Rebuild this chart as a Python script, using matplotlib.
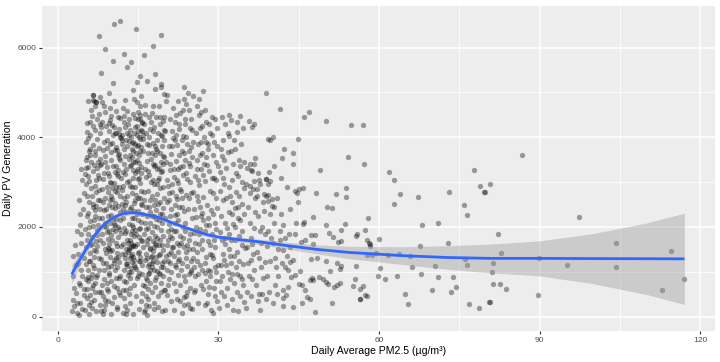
import matplotlib
matplotlib.use("Agg")
import matplotlib.pyplot as plt
import numpy as np

plt.rcParams['font.family'] = ['Liberation Sans', 'DejaVu Sans']

# (pm2.5, pv) pairs read /, by pollution band
pts_very_clean = [
    (2.7,120),(2.9,380),(3.1,650),(2.8,900),(3.3,1150),(3.0,240),(3.6,80),(3.4,520),(3.8,1400),(4.1,300),
    (3.9,760),(4.3,1050),(4.6,180),(4.4,1650),(4.8,620),(4.2,2050),(4.9,1300),(3.5,1900),(4.7,2400),(4.0,40),
    (4.5,900),(3.2,1600),(4.9,2750),(4.6,3050),(4.1,2300),(3.7,1200),(4.8,480),(4.3,1850),(3.9,2600),(2.9,1350),
    (4.4,3300),(5.5,4111),(5.6,3984),(6.0,4333),(5.3,3497),(5.3,3319),(5.6,3148),(3.6,300),(4.2,700),
]
pts_clean = [
    (5.1,150),(5.4,420),(5.7,880),(6.0,1240),(6.3,1610),(6.6,2020),(6.9,2380),(7.2,2790),(7.5,3150),(7.8,3520),
    (5.2,3890),(5.5,4330),(5.9,60),(6.2,330),(6.5,710),(6.8,1080),(7.1,1460),(7.4,1830),(7.7,2210),(7.9,2600),
    (5.3,2950),(5.6,3330),(5.8,3700),(6.1,4050),(6.4,4480),(6.7,4820),(7.0,540),(7.3,920),(7.6,1300),(7.9,1700),
    (5.0,1950),(5.4,2240),(5.8,2560),(6.2,2880),(6.6,3240),(7.0,3610),(7.4,3960),(7.8,4290),(5.6,1040),(6.0,1420),
    (6.4,1780),(6.8,2150),(7.2,2460),(7.6,2830),(5.1,3180),(5.5,620),(5.9,250),(6.3,960),(6.7,1330),(7.1,1680),
    (7.5,2050),(7.9,2400),(5.3,1550),(5.7,1850),(6.1,2140),(6.5,2520),(6.9,2920),(7.3,3320),(7.7,3760),(6.2,4600),
    (5.2,1180),(5.6,790),(6.0,480),(6.4,190),(6.8,380),(7.2,120),(7.6,560),(5.4,2680),(5.8,3030),(6.2,3450),
    (6.6,3820),(7.0,4160),(7.4,4410),(7.8,4900),(6.9,4690),(5.7,2320),(6.1,1600),(6.5,1150),(6.9,760),(7.3,1930),
    (7.7,1050),(5.5,1700),(6.3,2700),(7.1,3050),(7.9,3390),(6.0,3600),(6.8,3380),(7.5,2600),(5.9,2000),(6.7,1480),
    (7.2,880),(7.8,250),(6.4,650),(5.3,850),(7.0,2250),(6.6,2450),(7.4,1580),(5.8,1250),(6.2,870),(7.6,3100),
    (7.9,4100),(6.5,4250),(5.6,4800),(6.6,4950),(7.1,4780),(7.7,4520),(6.1,3750),(6.9,3700),(7.5,3450),(5.4,3560),
    (6.6,4942),(6.6,4831),(7.1,4793),(7.7,6260),(8.0,5430),(8.9,5964),(9.6,4978),
    (8.1,120),(8.4,460),(8.7,830),(9.0,1190),(9.3,1540),(9.6,1900),(9.9,2270),(10.2,2630),(10.5,2990),(10.8,3360),
    (11.1,3720),(11.4,4080),(11.7,4430),(8.2,4780),(8.5,50),(8.8,380),(9.1,740),(9.4,1100),(9.7,1460),(10.0,1820),
    (10.3,2180),(10.6,2540),(10.9,2900),(11.2,3260),(11.5,3620),(11.8,3980),(8.3,4340),(8.6,4690),(8.9,260),(9.2,620),
    (9.5,980),(9.8,1340),(10.1,1700),(10.4,2060),(10.7,2420),(11.0,2780),(11.3,3140),(11.6,3500),(11.9,3860),(8.1,4220),
    (8.4,1650),(8.7,2030),(9.0,2410),(9.3,2770),(9.6,3140),(9.9,3500),(10.2,3870),(10.5,4230),(10.8,4580),(11.1,170),
    (11.4,540),(11.7,910),(8.0,1280),(8.3,2840),(8.6,3210),(8.9,3580),(9.2,3940),(9.5,4310),(9.8,4660),(10.1,310),
    (10.4,680),(10.7,1050),(11.0,1410),(11.3,1780),(11.6,2150),(11.9,2510),(8.2,2200),(8.5,2560),(8.8,1510),(9.1,1880),
    (9.4,2240),(9.7,2610),(10.0,2980),(10.3,3350),(10.6,3720),(10.9,4090),(11.2,4450),(11.5,1210),(11.8,1580),(8.7,3890),
    (9.0,4250),(9.3,580),(9.6,930),(9.9,1120),(10.2,1490),(10.5,1260),(10.8,870),(11.1,640),(11.4,1950),(11.7,2330),
    (8.4,3060),(8.8,3440),(9.2,3770),(9.6,4130),(10.0,4470),(10.4,4820),(10.8,1640),(11.2,2010),(11.6,2690),(8.6,1040),
    (9.0,1410),(9.4,1730),(9.8,2090),(10.2,2450),(10.6,2810),(11.0,3180),(11.4,3540),(11.8,3100),(8.3,700),(8.9,2100),
    (9.5,2480),(10.1,2860),(10.7,3230),(11.3,3600),(11.9,3930),(9.7,4380),(10.3,4050),(10.9,3780),(11.5,4180),(8.5,3710),
    (8.1,560),(8.7,140),(9.3,350),(9.9,70),(10.5,430),(11.1,220),(11.7,480),(9.1,3330),(9.7,3010),(10.3,1960),
    (10.9,2180),(11.5,860),(8.2,1850),(8.8,2640),(9.4,3200),(10.0,3680),(10.6,4100),(11.2,1330),(11.8,1860),(9.6,1620),
    (10.4,1200),(11.0,1580),(8.6,2380),(9.2,2900),(9.8,3840),(10.6,1900),(11.3,2470),(8.9,4560),(10.1,4280),(11.6,4000),
    (8.4,1200),(9.5,1500),(10.8,1300),(11.1,1100),(9.9,2700),(10.7,2050),(11.4,2900),(8.0,3400),(9.0,2000),(10.0,800),
    (10.5,6533),(11.6,6586),(12.3,5853),(10.3,5698),(10.3,5215),
]
pts_moderate = [
    (12.1,90),(12.4,420),(12.7,780),(13.0,1130),(13.3,1480),(13.6,1840),(13.9,2190),(14.2,2540),(14.5,2900),(14.8,3250),
    (15.1,3600),(15.4,3960),(15.7,4310),(12.2,4660),(12.5,230),(12.8,590),(13.1,940),(13.4,1300),(13.7,1650),(14.0,2010),
    (14.3,2360),(14.6,2720),(14.9,3070),(15.2,3420),(15.5,3780),(15.8,4130),(12.3,4480),(12.6,4840),(12.9,150),(13.2,510),
    (13.5,860),(13.8,1220),(14.1,1570),(14.4,1930),(14.7,2280),(15.0,2640),(15.3,2990),(15.6,3340),(15.9,3700),(12.0,4050),
    (12.3,1050),(12.6,1390),(12.9,1720),(13.2,2060),(13.5,2400),(13.8,2750),(14.1,3100),(14.4,3450),(14.7,3800),(15.0,4150),
    (15.3,4500),(15.6,360),(15.9,700),(12.1,1610),(12.4,1980),(12.7,2330),(13.0,2680),(13.3,3030),(13.6,3380),(13.9,3740),
    (14.2,4090),(14.5,4440),(14.8,4790),(15.1,980),(15.4,1330),(15.7,1690),(12.2,3230),(12.5,3590),(12.8,3940),(13.1,4300),
    (13.4,640),(13.7,990),(14.0,1340),(14.3,700),(14.6,1060),(14.9,1410),(15.2,1770),(15.5,2120),(15.8,2480),(12.0,2830),
    (12.6,3180),(13.2,3520),(13.8,3870),(14.4,4220),(15.0,4570),(15.6,4920),(12.4,800),(13.0,1200),(13.6,1560),(14.2,1270),
    (14.8,1620),(15.4,1980),(12.2,2190),(12.8,2560),(13.4,2920),(14.0,3280),(14.6,3640),(15.2,4010),(15.8,4350),(12.9,3810),
    (13.5,4160),(14.1,4520),(14.7,870),(15.3,1240),(15.9,1560),(12.5,1860),(13.1,1440),(13.7,1090),(14.3,1800),(14.9,2150),
    (15.5,2510),(12.1,2920),(12.7,1170),(13.3,1540),(13.9,1910),(14.5,1580),(15.1,1950),(15.7,2300),(12.3,2650),(12.9,3000),
    (13.5,3350),(14.1,3700),(14.7,4060),(15.3,4410),(15.9,3960),(12.6,4240),(13.2,3910),(13.8,3560),(14.4,3200),(15.0,3830),
    (15.6,4160),(12.8,70),(13.4,300),(14.0,50),(14.6,450),(15.2,180),(15.8,520),(13.0,4580),(14.2,4850),(15.4,4700),
    (12.4,3400),(13.6,4000),(14.8,3500),(15.6,3200),(12.7,1500),(13.3,1000),(13.9,1400),(14.5,1100),(15.1,1250),(15.7,950),
    (12.2,600),(12.8,1900),(13.4,1700),(14.0,1600),(14.6,1850),(15.2,1450),(15.8,1150),(12.5,1300),(13.1,1650),(13.7,1350),
    (14.3,1150),(14.9,900),(15.5,1700),(12.0,1400),(13.8,2050),(14.4,2600),(15.0,2350),(15.6,2800),(12.3,3750),(12.9,4100),
    (13.5,3600),(14.1,3900),(14.7,4250),(15.3,3700),(15.9,4050),(13.2,4050),(14.5,3850),(12.6,2500),(13.9,2900),(15.1,3100),
    (12.1,2400),(13.7,2450),(14.2,2200),(15.4,2650),(12.8,3300),(14.0,3450),(15.0,3300),(13.3,4400),(14.9,4400),(12.4,4350),
    (14.6,6415),(13.6,5682),(12.9,5578),(15.4,5378),(14.8,5238),(14.0,5053),
    (16.1,110),(16.4,470),(16.7,820),(17.0,1180),(17.3,1530),(17.6,1890),(17.9,2240),(18.2,2600),(18.5,2950),(18.8,3310),
    (19.1,3660),(19.4,4020),(19.7,4370),(16.2,4720),(16.5,260),(16.8,610),(17.1,970),(17.4,1320),(17.7,1680),(18.0,2030),
    (18.3,2390),(18.6,2740),(18.9,3100),(19.2,3450),(19.5,3810),(19.8,4160),(16.3,4520),(16.6,40),(16.9,390),(17.2,750),
    (17.5,1100),(17.8,1460),(18.1,1810),(18.4,2170),(18.7,2520),(19.0,2880),(19.3,3230),(19.6,3590),(19.9,3940),(16.0,4300),
    (16.3,1260),(16.6,1620),(16.9,1970),(17.2,2330),(17.5,2680),(17.8,3040),(18.1,3390),(18.4,3750),(18.7,4100),(19.0,4460),
    (19.3,540),(19.6,900),(19.9,1250),(16.1,2770),(16.4,3120),(16.7,3480),(17.0,3830),(17.3,4190),(17.6,4540),(17.9,300),
    (18.2,660),(18.5,1010),(18.8,1370),(19.1,1720),(19.4,2080),(19.7,2430),(16.2,2090),(16.5,2450),(16.8,2800),(17.1,3160),
    (17.4,3510),(17.7,3870),(18.0,4220),(18.3,880),(18.6,1230),(18.9,1590),(19.2,1940),(19.5,2290),(19.8,2650),(16.4,870),
    (16.8,1140),(17.2,1510),(17.6,1190),(18.0,1560),(18.4,1330),(18.8,980),(19.2,1100),(19.6,1480),(16.6,3850),(17.0,4000),
    (17.4,4350),(17.8,4700),(18.2,3600),(18.6,3950),(19.0,4300),(19.4,3250),(19.8,3550),(16.0,1850),(16.5,1400),(17.0,1750),
    (17.5,1350),(18.0,1050),(18.5,1750),(19.0,1400),(19.5,1200),(16.3,680),(16.9,950),(17.5,560),(18.1,820),(18.7,470),
    (19.3,750),(19.9,600),(16.7,2250),(17.3,2600),(17.9,2950),(18.5,3300),(19.1,2550),(19.7,2900),(16.2,3300),(16.8,3650),
    (17.4,3000),(18.0,3350),(18.6,3700),(19.2,4050),(19.8,4450),(16.5,4100),(17.1,4450),(17.7,4150),(18.3,4450),(18.9,4700),
    (16.1,2600),(16.7,1700),(17.3,2100),(17.9,2500),(18.5,2000),(19.1,2300),(19.7,1800),(16.4,1950),(17.0,2450),(17.6,2250),
    (18.2,1650),(18.8,2150),(19.4,1600),(16.9,3250),(17.8,3400),(18.7,3050),(19.6,3400),(16.6,1300),(17.2,1050),(17.8,1250),
    (18.4,1600),(19.0,950),(19.6,1100),(16.3,150),(17.1,240),(17.9,180),(18.7,210),(19.5,120),(18.1,3800),(17.5,3650),
    (19.2,6275),(17.7,6044),(16.1,5838),(18.2,5408),(16.6,5267),(19.2,5200),(19.3,5127),(18.2,5067),(19.9,4964),(20.3,4950),
]
pts_unhealthy = [
    (20.1,140),(20.4,490),(20.7,850),(21.0,1200),(21.3,1560),(21.6,1910),(21.9,2270),(22.2,2620),(22.5,2980),(22.8,3330),
    (23.1,3690),(23.4,4040),(23.7,4400),(24.0,4750),(24.3,280),(24.6,640),(24.9,990),(20.2,1350),(20.5,1700),(20.8,2060),
    (21.1,2410),(21.4,2770),(21.7,3120),(22.0,3480),(22.3,3830),(22.6,4190),(22.9,4540),(23.2,80),(23.5,430),(23.8,790),
    (24.1,1140),(24.4,1500),(24.7,1850),(25.0,2210),(20.3,2560),(20.6,2920),(20.9,3270),(21.2,3630),(21.5,3980),(21.8,4340),
    (22.1,580),(22.4,940),(22.7,1290),(23.0,1650),(23.3,2000),(23.6,2360),(23.9,2710),(24.2,3070),(24.5,3420),(24.8,3780),
    (20.0,4130),(20.4,1050),(20.8,1400),(21.2,1000),(21.6,1350),(22.0,1100),(22.4,1450),(22.8,1800),(23.2,1200),(23.6,1550),
    (24.0,1300),(24.4,950),(24.8,1250),(20.6,1900),(21.0,2250),(21.4,1750),(21.8,2100),(22.2,1650),(22.6,2450),(23.0,2800),
    (23.4,3150),(23.8,3500),(24.2,3850),(24.6,4200),(20.2,3450),(20.8,3800),(21.4,4150),(22.0,4500),(22.6,3600),(23.2,3950),
    (23.8,4300),(24.4,4600),(20.5,700),(21.1,350),(21.7,750),(22.3,400),(22.9,700),(23.5,250),(24.1,550),(24.7,200),
    (20.1,2200),(20.7,2600),(21.3,2950),(21.9,2500),(22.5,2150),(23.1,2450),(23.7,2100),(24.3,2400),(24.9,2750),(20.4,3050),
    (21.0,3400),(21.6,3300),(22.2,3050),(22.8,2850),(23.4,3350),(24.0,3200),(24.6,3000),(20.9,4400),(21.5,4650),(22.1,4050),
    (22.7,4300),(23.3,4600),(23.9,4000),(24.5,3700),(20.3,1600),(20.9,1800),(21.5,1550),(22.1,1900),(22.7,1600),(23.3,1750),
    (23.9,1450),(24.5,1700),(20.6,1250),(21.2,1450),(21.8,1150),(22.4,1250),(23.0,1050),(23.6,900),(24.2,1600),(24.8,1050),
    (20.0,600),(21.7,150),(22.9,350),(24.0,450),(21.3,3800),(22.4,3300),(23.5,3650),(24.7,3350),(20.7,2750),(22.0,2700),
    (23.2,2650),(24.4,2650),(21.1,1950),(22.3,2300),(23.8,1900),(20.2,4800),(22.5,4800),(24.8,4400),(21.9,3950),(23.6,4850),
    (23.6,5111),(27.1,5022),(24.3,4987),(25.2,4920),
    (25.1,180),(25.4,540),(25.7,900),(26.0,1250),(26.3,1610),(26.6,1960),(26.9,2320),(27.2,2670),(27.5,3030),(27.8,3380),
    (28.1,3740),(28.4,4090),(28.7,4450),(29.0,90),(29.3,450),(29.6,800),(29.9,1160),(25.2,1510),(25.5,1870),(25.8,2220),
    (26.1,2580),(26.4,2930),(26.7,3290),(27.0,3640),(27.3,4000),(27.6,4350),(27.9,300),(28.2,660),(28.5,1010),(28.8,1370),
    (29.1,1720),(29.4,2080),(29.7,2430),(25.3,2790),(25.6,3140),(25.9,3500),(26.2,3850),(26.5,4210),(26.8,4560),(27.1,620),
    (27.4,970),(27.7,1330),(28.0,1680),(28.3,2040),(28.6,2390),(28.9,2750),(29.2,3100),(29.5,3460),(29.8,3810),(25.0,4160),
    (25.5,1100),(26.0,1450),(26.5,1150),(27.0,1500),(27.5,1200),(28.0,1050),(28.5,1400),(29.0,1300),(29.5,1000),(25.7,1650),
    (26.3,1850),(26.9,1700),(27.5,1900),(28.1,2200),(28.7,1850),(29.3,1550),(25.4,2400),(26.0,2700),(26.6,2450),(27.2,2150),
    (27.8,2500),(28.4,2800),(29.0,2300),(29.6,2650),(25.9,3300),(26.5,3600),(27.1,3150),(27.7,3550),(28.3,3250),(28.9,3600),
    (29.5,3050),(25.2,3900),(25.8,4100),(26.4,4500),(27.0,4250),(27.6,3900),(28.2,4300),(28.8,4050),(29.4,4400),(25.6,600),
    (26.2,300),(26.8,700),(27.4,250),(28.0,500),(28.6,150),(29.2,650),(29.8,350),(25.3,1300),(26.1,950),(26.9,1050),
    (27.7,800),(28.5,900),(29.3,1100),(25.8,2000),(26.7,2250),(27.6,2050),(28.4,1600),(29.6,1950),(26.2,3050),(27.3,3400),
    (28.7,3100),(29.9,3350),(25.1,3550),(26.8,3900),(28.0,3850),(29.1,3900),(25.9,4700),(27.5,4600),(29.7,4200),(26.4,4850),
    (30.1,200),(30.4,560),(30.7,910),(31.0,1270),(31.3,1620),(31.6,1980),(31.9,2330),(32.2,2690),(32.5,3040),(32.8,3400),
    (33.1,3750),(33.4,4110),(33.7,120),(34.0,470),(34.3,830),(34.6,1180),(34.9,1540),(30.2,1890),(30.5,2250),(30.8,2600),
    (31.1,2960),(31.4,3310),(31.7,3670),(32.0,4020),(32.3,4380),(32.6,390),(32.9,740),(33.2,1100),(33.5,1450),(33.8,1810),
    (34.1,2160),(34.4,2520),(34.7,2870),(30.3,3230),(30.6,3580),(30.9,3940),(31.2,4290),(31.5,650),(31.8,1000),(32.1,1360),
    (32.4,1710),(32.7,2070),(33.0,2420),(33.3,2780),(33.6,3130),(33.9,3490),(34.2,3840),(34.5,4200),(34.8,330),(30.4,1150),
    (30.9,1400),(31.4,1150),(31.9,1500),(32.4,1200),(32.9,1350),(33.4,950),(33.9,1250),(34.4,1600),(30.7,1700),(31.3,2100),
    (31.9,1850),(32.5,2300),(33.1,2000),(33.7,2200),(34.3,1900),(30.2,2800),(30.8,3100),(31.4,2650),(32.0,2900),(32.6,2550),
    (33.2,3200),(33.8,2700),(34.4,3000),(30.5,3750),(31.1,3500),(31.7,4100),(32.3,3700),(32.9,3950),(33.5,4350),(34.1,3350),
    (30.3,800),(31.0,450),(31.6,250),(32.2,850),(32.8,150),(33.4,550),(34.0,900),(34.6,700),(30.6,4450),(32.0,4500),
    (33.0,1700),(34.7,2300),(31.2,1750),(32.5,950),(33.6,2450),(34.0,4482),
]
pts_very_unhealthy = [
    (35.7,4356),(36.3,4238),(36.7,4289),(39.3,3971),(39.7,3949),(40.1,4016),(38.8,4987),(34.8,3460),(35.9,3408),
    (36.7,3400),(36.8,3542),(35.4,3311),(36.3,3253),(37.3,3209),(39.5,3231),(38.9,3075),(36.1,3260),
    (36.6,3015),(37.7,2964),(38.9,3067),(39.6,3022),(37.2,2853),(35.9,2904),
    (38.5,2727),(39.2,2704),(39.3,2578),(40.0,2460),(40.4,2444),
    (35.1,200),(35.4,560),(35.7,910),(36.0,1270),(36.3,1620),(36.6,1980),(36.9,2330),(37.2,2690),(37.5,3040),(37.8,150),
    (38.1,500),(38.4,860),(38.7,1210),(39.0,1570),(39.3,1920),(39.6,2280),(39.9,2630),(35.2,2950),(35.5,2450),(35.8,2100),
    (36.1,1750),(36.4,1400),(36.7,1050),(37.0,700),(37.3,350),(37.6,1300),(37.9,1650),(38.2,2000),(38.5,2350),(38.8,2700),
    (39.1,900),(39.4,550),(39.7,1250),(35.6,1200),(36.2,850),(36.8,2650),(37.4,2250),(38.0,1100),(38.6,1850),(39.2,2950),
    (35.3,1550),(36.5,2850),(37.7,1900),(38.9,400),(39.8,1750),(37.1,1450),(36.0,450),(38.3,2550),(35.9,2750),(37.5,500),
    (40.2,300),(40.5,700),(40.8,1100),(41.1,1500),(41.4,1900),(41.7,2300),(40.3,2100),(40.6,1300),(40.9,500),(41.2,900),
    (41.5,1700),(41.8,1200),(42.1,2050),(42.4,1750),(42.7,1350),(43.0,1050),(43.3,2400),(40.1,1650),(41.0,2650),(41.6,3100),
    (40.4,3350),(42.8,2900),(42.0,600),
    (41.4,4631),(45.9,4460),(46.9,4556),(50.1,4356),(54.8,4282),(57.0,4282),(44.8,3971),(42.3,3734),(41.9,3549),
    (44.0,3645),(43.9,3400),(54.2,3564),(57.1,3400),(49.0,3260),(61.9,3222),(62.7,3053),(77.7,3282),(86.6,3616),
    (44.2,2793),(44.6,2756),(45.1,2853),(45.7,2876),(48.2,2756),(51.9,2733),(53.8,2867),(53.9,2667),
    (44.9,2556),(50.2,2444),(51.2,2430),(47.6,2222),(44.4,2098),(45.8,2075),(45.9,2104),(50.1,2038),(53.6,2060),
    (52.8,1942),(44.3,1853),(43.2,1853),(47.3,1815),(48.1,1830),(50.6,1867),(51.4,1778),(52.9,1689),(52.4,1660),
    (55.9,1838),(55.6,1793),(58.2,1631),(47.6,1631),(45.4,1667),(46.1,1704),(43.4,1556),(42.1,1482),(47.3,1297),
    (48.4,1319),(50.1,1244),(52.2,1208),(52.8,1126),(52.6,1067),(55.6,1141),(50.8,1015),(49.5,830),(48.7,875),
    (47.7,815),(50.0,778),(50.5,727),(51.5,653),(52.2,697),(52.6,742),(55.1,682),(55.5,830),(56.5,608),(57.4,475),
    (56.5,386),(51.2,311),(48.1,111),(46.6,445),(47.0,386),(45.6,311),(43.9,222),(42.1,237),(46.2,593),(45.6,704),
    (47.0,815),(47.4,867),(45.2,1022),(44.3,926),(43.5,889),(45.0,719),(43.0,667),(42.6,482),(42.1,408),(43.4,1222),
    (44.0,1260),(42.4,1111),
]
pts_hazardous = [
    (62.8,2504),(75.9,2482),(76.4,2267),(58.0,2209),(68.0,2038),(71.0,2082),(57.3,1927),(57.8,1704),(58.1,1645),
    (58.2,1578),(59.9,1727),(72.8,1638),(67.7,1571),(59.5,1430),(58.6,1371),(57.7,1386),(61.6,1371),(63.7,1408),
    (65.7,1349),(76.1,1297),(76.4,1148),(66.2,1111),(70.5,1126),(60.2,1089),(59.8,904),(61.1,830),(63.4,904),
    (67.8,948),(71.0,889),(73.8,889),(57.0,682),(56.5,393),(57.7,467),(69.8,586),(73.4,549),(74.4,653),(64.9,504),
    (65.3,275),(76.8,275),(78.7,200),(80.6,334),(63.9,2733),(67.3,2660),(73.1,2771),(78.9,2920),(79.6,2787),
    (80.7,2949),(79.7,2778),(97.3,2231),(82.2,1838),(104.3,1638),(82.7,1416),(114.5,1460),(81.2,1193),(89.8,1304),
    (95.1,1156),(104.3,1104),(81.0,986),(116.9,845),(81.3,727),(82.6,727),(83.7,623),(112.8,601),(89.6,475),(80.7,334),
]

# fitted smooth (gam) and its confidence band
smooth_x = [2.6, 3.5, 4.8, 5.7, 6.65, 7.6, 8.5, 9.4, 10.4, 11.3, 12.25, 13.2, 14.1, 15.0, 16.0, 17.0, 18.0,
            19.0, 20.0, 21.0, 22.0, 23.5, 25.5, 27.8, 30.0, 34.0, 37.8, 42.1, 48.4, 54.6, 58.3, 64.5, 72.6,
            80.7, 90.0, 100.0, 110.0, 117.0]
smooth_y = [940, 1150, 1410, 1590, 1780, 1920, 2040, 2130, 2210, 2260, 2298, 2315, 2320, 2308, 2285, 2260, 2235,
            2205, 2160, 2110, 2065, 2000, 1920, 1830, 1775, 1715, 1667, 1595, 1500, 1430, 1405, 1360, 1320,
            1300, 1300, 1295, 1292, 1289]
smooth_lo = [720, 980, 1290, 1490, 1695, 1845, 1970, 2065, 2150, 2203, 2243, 2262, 2270, 2258, 2235, 2210, 2185,
             2155, 2110, 2060, 2015, 1950, 1870, 1780, 1725, 1660, 1607, 1520, 1400, 1290, 1245, 1160, 1060,
             980, 910, 735, 492, 270]
smooth_hi = [1160, 1320, 1530, 1690, 1865, 1995, 2110, 2195, 2270, 2317, 2353, 2368, 2370, 2358, 2335, 2310, 2285,
             2255, 2210, 2160, 2115, 2050, 1970, 1880, 1825, 1770, 1727, 1670, 1600, 1570, 1565, 1560, 1580,
             1620, 1690, 1855, 2092, 2308]

points = pts_very_clean + pts_clean + pts_moderate + pts_unhealthy + pts_very_unhealthy + pts_hazardous
pm25 = np.array([p[0] for p in points])
pv = np.array([p[1] for p in points])

fig = plt.figure(figsize=(7.2, 3.62), dpi=100)
ax = fig.add_axes([0.058, 0.0856, 0.935, 0.898])
ax.set_facecolor('#EDEDED')
ax.set_axisbelow(True)

ax.scatter(pm25, pv, s=15, c='black', alpha=0.36, linewidths=0, zorder=2)
ax.fill_between(smooth_x, smooth_lo, smooth_hi, color='#999999', alpha=0.4, linewidth=0, zorder=3)
ax.plot(smooth_x, smooth_y, color='#3366FF', lw=2.0, zorder=4, solid_capstyle='butt')

ax.set_xlim(-3.0, 122.7)
ax.set_ylim(-320, 6930)
ax.set_xticks([0, 30, 60, 90, 120])
ax.set_yticks([0, 2000, 4000, 6000])
ax.set_xticks([15, 45, 75, 105], minor=True)
ax.set_yticks([1000, 3000, 5000], minor=True)
ax.grid(which='major', color='white', lw=1.1)
ax.grid(which='minor', color='white', lw=0.55)
for s in ax.spines.values():
    s.set_visible(False)
ax.tick_params(which='major', length=2.5, width=0.8, color='#333333', labelcolor='#4D4D4D',
               labelsize=6.1, pad=1.5)
ax.tick_params(which='minor', length=0)

ax.set_xlabel('Daily Average PM2.5 (µg/m³)', fontsize=7.6, labelpad=2)
ax.set_ylabel('Daily PV Generation', fontsize=7.6, labelpad=3)

fig.savefig('out.png', dpi=100)
